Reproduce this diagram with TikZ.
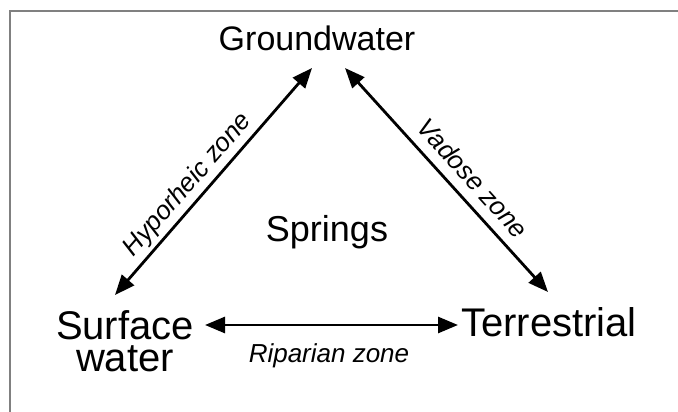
\documentclass[tikz,border=0pt]{standalone}
\usepackage{fontspec}
\setmainfont{Liberation Sans}
\usetikzlibrary{arrows.meta, positioning}

\begin{document}
\begin{tikzpicture}[x=1pt, y=-1pt,
  place/.style={font=\fontsize{38}{36}\selectfont, align=center, inner sep=0pt},
  zone/.style={font=\fontsize{26}{30}\selectfont\itshape, inner sep=0pt},
  link/.style={{Triangle[length=20pt,width=16pt]}-{Triangle[length=20pt,width=16pt]}, line width=2.8pt}
]
  \useasboundingbox (0,0) rectangle (678,412);

  % Frame
  \draw[gray, line width=1.5pt] (10,412) -- (10,11) -- (678,11);

  % Places
  \node[place, font=\fontsize{34}{36}\selectfont] (ground) at (317,38) {Groundwater};
  \node[place, font=\fontsize{36}{36}\selectfont] (springs) at (327,232) {Springs};
  \node[place, font=\fontsize{40}{32}\selectfont] (surface) at (125,341) {Surface\\water};
  \node[place, font=\fontsize{40}{36}\selectfont] (terr) at (549,322) {Terrestrial};

  % Arrow ends
  \coordinate (gw-left) at (312,68);
  \coordinate (gw-right) at (345,68);
  \coordinate (sw-top) at (115,295);
  \coordinate (sw-right) at (205,325);
  \coordinate (te-top) at (548,292);
  \coordinate (te-left) at (458,325);

  % Arrows
  \draw[link] (gw-left) -- (sw-top);
  \draw[link] (gw-right) -- (te-top);
  \draw[link] (sw-right) -- (te-left);

  % Zones
  \node[zone, rotate=49] (hypo) at (188,185) {Hyporheic zone};
  \node[zone, rotate=-48] (vadose) at (473,178) {Vadose zone};
  \node[zone] (ripa) at (329,356) {Riparian zone};
\end{tikzpicture}
\end{document}
